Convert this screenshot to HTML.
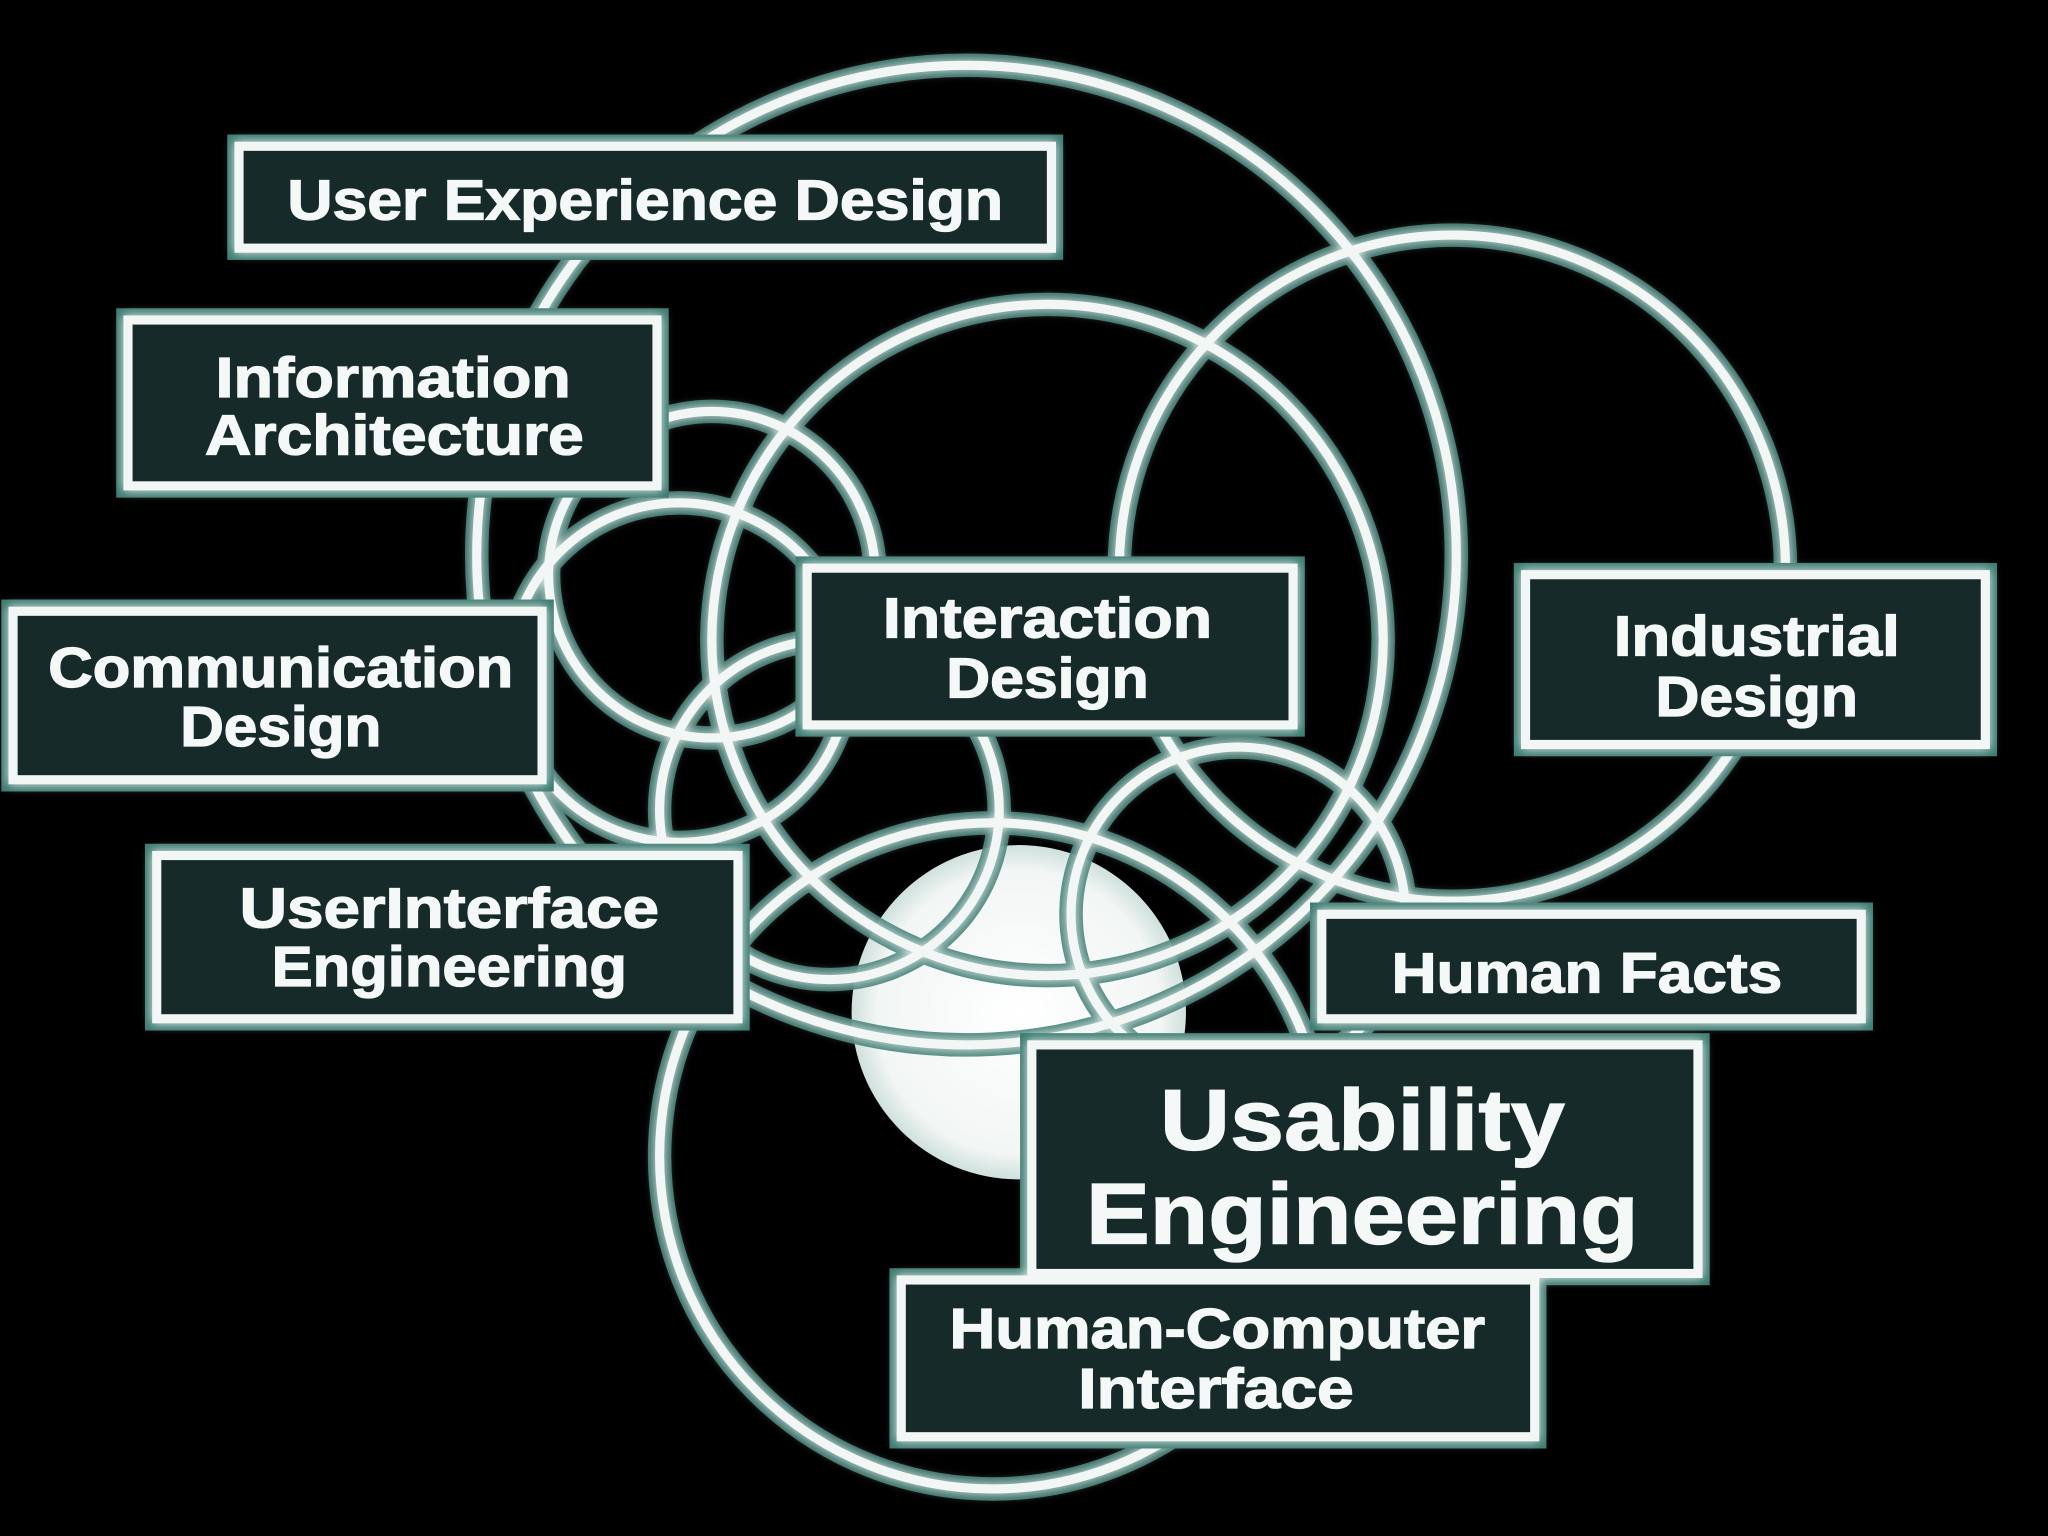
<!DOCTYPE html>
<html><head><meta charset="utf-8"><style>
html,body{margin:0;padding:0;background:#000;}
svg{display:block}
text{font-family:"Liberation Sans",sans-serif;font-weight:bold;fill:#f4f8f7;text-anchor:middle;stroke:#f4f8f7;stroke-width:1}
</style></head><body>
<svg width="2048" height="1536" viewBox="0 0 1568 1176" xmlns="http://www.w3.org/2000/svg">
<defs>
<filter id="g" x="-20%" y="-20%" width="140%" height="140%">
<feGaussianBlur in="SourceGraphic" stdDeviation="4" result="b"/>
<feMerge><feMergeNode in="b"/><feMergeNode in="SourceGraphic"/></feMerge>
</filter>
<radialGradient id="wf" cx="50%" cy="50%" r="50%">
<stop offset="0" stop-color="#fff"/><stop offset="0.85" stop-color="#f2f6f5"/><stop offset="1" stop-color="#cfe0dc"/>
</radialGradient>
</defs>
<rect width="1568" height="1176" fill="#000"/>
<circle cx="780" cy="775" r="128" fill="url(#wf)"/>
<g fill="none" stroke="#3b7a70" stroke-width="18" opacity="0.9">
<circle cx="740" cy="425" r="375"/>
<circle cx="1112" cy="435" r="255"/>
<circle cx="802" cy="490" r="257"/>
<circle cx="545" cy="440" r="125"/>
<circle cx="520" cy="515" r="130"/>
<circle cx="635" cy="620" r="130"/>
<circle cx="948" cy="700" r="128"/>
<circle cx="760" cy="885" r="255"/>
</g>
<g fill="none" stroke="#f2f7f6" stroke-width="7" filter="url(#g)">
<circle cx="740" cy="425" r="375"/>
<circle cx="1112" cy="435" r="255"/>
<circle cx="802" cy="490" r="257"/>
<circle cx="545" cy="440" r="125"/>
<circle cx="520" cy="515" r="130"/>
<circle cx="635" cy="620" r="130"/>
<circle cx="948" cy="700" r="128"/>
<circle cx="760" cy="885" r="255"/>
</g>
<g fill="#12201f" stroke="#3b7a70" stroke-width="18">
<rect x="183" y="112" width="622" height="78"/>
<rect x="98" y="245" width="405" height="127"/>
<rect x="10" y="468" width="405" height="129"/>
<rect x="120" y="655" width="445" height="125"/>
<rect x="618" y="435" width="372" height="120"/>
<rect x="1168" y="440" width="352" height="130"/>
<rect x="1012" y="700" width="413" height="80"/>
<rect x="790" y="800" width="510" height="175"/>
<rect x="690" y="980" width="485" height="120"/>
</g>
<g fill="#15292a" stroke="#f2f7f6" stroke-width="7" filter="url(#g)">
<rect x="183" y="112" width="622" height="78"/>
<rect x="98" y="245" width="405" height="127"/>
<rect x="10" y="468" width="405" height="129"/>
<rect x="120" y="655" width="445" height="125"/>
<rect x="618" y="435" width="372" height="120"/>
<rect x="1168" y="440" width="352" height="130"/>
<rect x="1012" y="700" width="413" height="80"/>
<rect x="790" y="800" width="510" height="175"/>
<rect x="690" y="980" width="485" height="120"/>
</g>
<g font-size="43">
<text x="494" y="168" textLength="548" lengthAdjust="spacingAndGlyphs">User Experience Design</text>
<text x="301" y="304" textLength="272" lengthAdjust="spacingAndGlyphs">Information</text>
<text x="302" y="348" textLength="290" lengthAdjust="spacingAndGlyphs">Architecture</text>
<text x="215" y="526" textLength="356" lengthAdjust="spacingAndGlyphs">Communication</text>
<text x="215" y="571" textLength="154" lengthAdjust="spacingAndGlyphs">Design</text>
<text x="344" y="710" textLength="321" lengthAdjust="spacingAndGlyphs">UserInterface</text>
<text x="344" y="755" textLength="272" lengthAdjust="spacingAndGlyphs">Engineering</text>
<text x="802" y="488" textLength="252" lengthAdjust="spacingAndGlyphs">Interaction</text>
<text x="802" y="534" textLength="155" lengthAdjust="spacingAndGlyphs">Design</text>
<text x="1345" y="502" textLength="219" lengthAdjust="spacingAndGlyphs">Industrial</text>
<text x="1345" y="548" textLength="155" lengthAdjust="spacingAndGlyphs">Design</text>
<text x="1215" y="760" textLength="299" lengthAdjust="spacingAndGlyphs">Human Facts</text>
<text x="932" y="1032" textLength="410" lengthAdjust="spacingAndGlyphs">Human-Computer</text>
<text x="931" y="1078" textLength="211" lengthAdjust="spacingAndGlyphs">Interface</text>
</g>
<g font-size="66">
<text x="1043" y="880" textLength="310" lengthAdjust="spacingAndGlyphs">Usability</text>
<text x="1043" y="952" textLength="423" lengthAdjust="spacingAndGlyphs">Engineering</text>
</g>
</svg>
</body></html>
